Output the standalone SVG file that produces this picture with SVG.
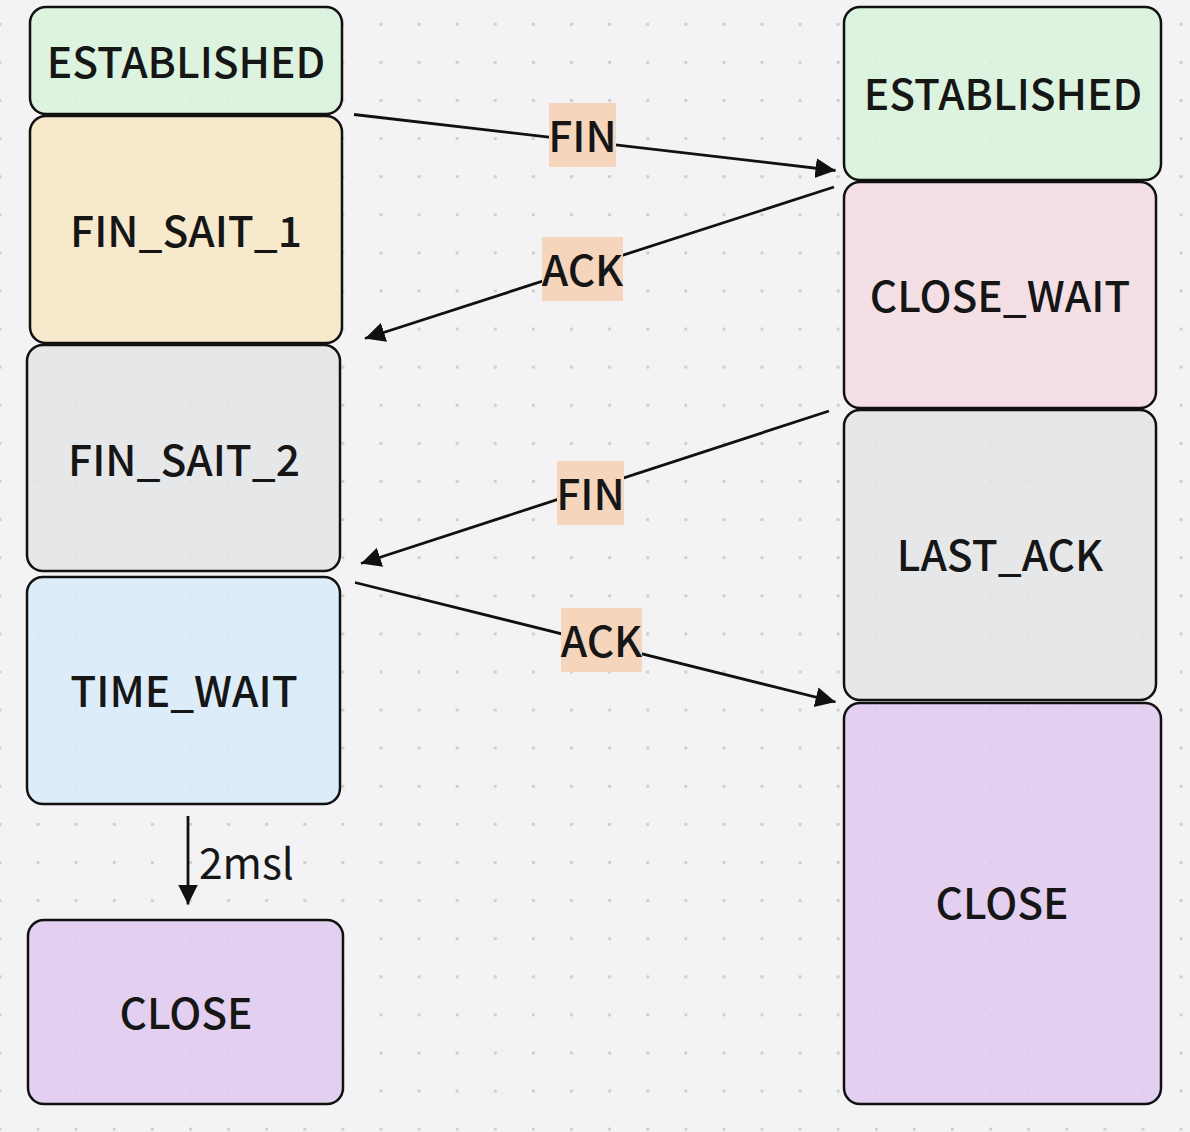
<svg xmlns="http://www.w3.org/2000/svg" width="1190" height="1132" viewBox="0 0 1190 1132">
<defs>
<pattern id="dots" x="-1.5" y="22.8" width="38.1" height="38.1" patternUnits="userSpaceOnUse">
<rect width="3" height="3" fill="#cfcfd2"/>
</pattern>
<marker id="arr" markerUnits="userSpaceOnUse" markerWidth="22" markerHeight="22" refX="20" refY="10" orient="auto">
<path d="M0,0 L20,10 L0,20 z" fill="#111"/>
</marker>
</defs>
<style>
.n rect{stroke:#111;stroke-width:2.5;fill-opacity:0.88}
.t{font-family:"Noto Sans CJK SC","Noto Sans",sans-serif;font-size:42.5px;font-weight:500;fill:#161616;text-anchor:middle}
.e{stroke:#111;stroke-width:2.8;fill:none}
.lb{fill:#f6d5bd}
</style>
<rect width="1190" height="1132" fill="#f3f3f5"/>
<rect width="1190" height="1132" fill="url(#dots)"/>
<g id="nodes">
<g id="l-established" class="n"><rect x="30" y="7" width="312" height="107" rx="16" fill="#d8f3dc"/><text class="t" x="186" y="78">ESTABLISHED</text></g>
<g id="l-fin-wait-1" class="n"><rect x="30" y="116" width="312" height="227" rx="16" fill="#f7e8c6"/><text class="t" x="186" y="247">FIN_SAIT_1</text></g>
<g id="l-fin-wait-2" class="n"><rect x="27" y="345" width="313" height="226" rx="16" fill="#e4e5e7"/><text class="t" x="184" y="476">FIN_SAIT_2</text></g>
<g id="l-time-wait" class="n"><rect x="27" y="577" width="313" height="227" rx="16" fill="#d8eaf8"/><text class="t" x="184" y="707">TIME_WAIT</text></g>
<g id="l-close" class="n"><rect x="28" y="920" width="315" height="184" rx="16" fill="#e0c9ee"/><text class="t" x="186" y="1029">CLOSE</text></g>
<g id="r-established" class="n"><rect x="844" y="7" width="317" height="173" rx="16" fill="#d8f3dc"/><text class="t" x="1003" y="110">ESTABLISHED</text></g>
<g id="r-close-wait" class="n"><rect x="844" y="182" width="312" height="226" rx="16" fill="#f4dde1"/><text class="t" x="1000" y="312">CLOSE_WAIT</text></g>
<g id="r-last-ack" class="n"><rect x="844" y="410" width="312" height="290" rx="16" fill="#e4e5e7"/><text class="t" x="1000" y="571">LAST_ACK</text></g>
<g id="r-close" class="n"><rect x="844" y="703" width="317" height="401" rx="16" fill="#e0c9ee"/><text class="t" x="1002" y="919">CLOSE</text></g>
</g>
<g id="edges">
<line class="e" x1="354" y1="114.5" x2="835.5" y2="170.5" marker-end="url(#arr)"/>
<rect class="lb" x="549" y="103" width="67" height="64"/><text class="t" x="582.5" y="152">FIN</text>
<line class="e" x1="834" y1="187" x2="365" y2="338.5" marker-end="url(#arr)"/>
<rect class="lb" x="542" y="237" width="81" height="64"/><text class="t" x="582.5" y="286">ACK</text>
<line class="e" x1="829" y1="411" x2="361" y2="563.5" marker-end="url(#arr)"/>
<rect class="lb" x="557" y="461" width="67" height="64"/><text class="t" x="590.5" y="510">FIN</text>
<line class="e" x1="355" y1="582.5" x2="835.5" y2="702" marker-end="url(#arr)"/>
<rect class="lb" x="561" y="608" width="81" height="64"/><text class="t" x="601.5" y="657">ACK</text>
<line class="e" x1="188" y1="816" x2="188" y2="904.5" marker-end="url(#arr)"/>
<text class="t" x="199" y="879" style="text-anchor:start;font-weight:400">2msl</text>
</g>
</svg>
